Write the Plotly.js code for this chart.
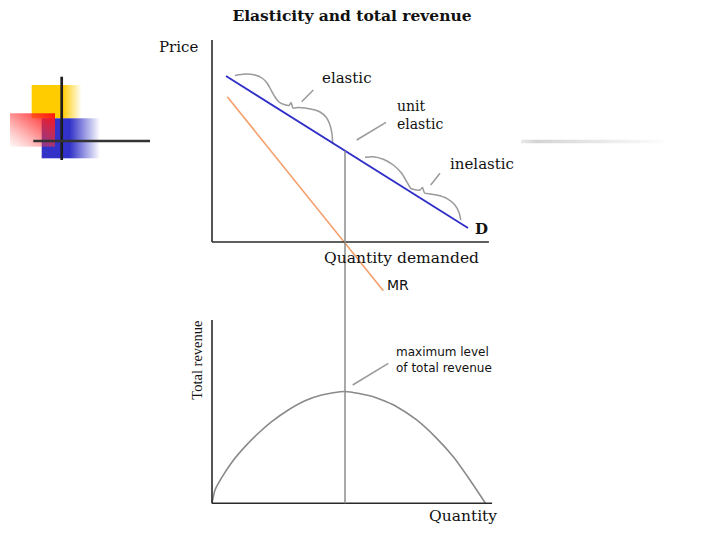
<!DOCTYPE html>
<html>
<head>
<meta charset="utf-8">
<script src="https://cdn.plot.ly/plotly-3.0.1.min.js"></script>
<style>html,body{margin:0;padding:0;background:#fff;}#chart{width:720px;height:540px;}</style>
</head>
<body>
<div id="chart"></div>
<script>
// ---- data (quantity Q, price P, total revenue TR) ----
const demandQ = [0.526, 9.624];
const demandP = [8.218, 0.693];
const mrQ = [0.575, 6.440];
const mrP = [7.193, -2.411];
const unitQ = 5.0;   // quantity where MR = 0 (unit elastic point)

const trQ  = [0, 0.113, 0.365, 0.741, 1.241, 1.741, 2.244, 2.868, 3.496, 4.124, 5.0, 6.064, 6.944, 7.695, 8.447, 9.071, 9.699, 10.28];
const trTR = [0, 1.18, 2.28, 3.63, 5.03, 6.22, 7.25, 8.29, 9.11, 9.62, 9.93, 9.47, 8.58, 7.40, 5.77, 4.14, 2.07, 0];

// curly braces beside the demand curve
const braceElasticQ = [0.865,1.241,1.617,1.880,2.068,2.218,2.368,2.519,2.707,2.895,2.970,3.045,3.233,3.496,3.872,4.060,4.286,4.436,4.511,4.538];
const braceElasticP = [8.243,8.317,8.267,8.119,7.871,7.525,7.178,6.931,6.807,6.757,6.906,6.634,6.658,6.634,6.535,6.436,6.188,5.792,5.347,4.851];
const braceInelasticQ = [5.752,6.064,6.440,6.816,7.132,7.320,7.470,7.594,7.820,7.914,7.989,8.195,8.447,8.823,9.135,9.297,9.350];
const braceInelasticP = [4.193,4.223,4.094,3.812,3.401,2.985,2.658,2.599,2.574,2.698,2.426,2.376,2.327,2.163,1.832,1.421,1.089];

// axis extents
const topAxisQmax = 10.41, topAxisPmax = 10.0;
const botAxisQmax = 10.53, botAxisTRmax = 16.28;

// labels
const titleText = 'Elasticity and total revenue';
const labels = {
  price: 'Price', elastic: 'elastic', unit: 'unit<br>elastic', inelastic: 'inelastic',
  d: 'D', qd: 'Quantity demanded', mr: 'MR', tr: 'Total revenue',
  max: 'maximum level<br>of total revenue', q: 'Quantity'
};

// ---- scales ----
const xRange = [-7.9699, 19.0977];
const yRange = [-14.7525, 11.9802];
const y2Range = [-3.2593, 44.698];

function interp(xs, ys, x) {
  const t = (x - xs[0]) / (xs[1] - xs[0]);
  return ys[0] + t * (ys[1] - ys[0]);
}
const pUnit = interp(demandQ, demandP, unitQ);
const paperY = (v) => (v - yRange[0]) / (yRange[1] - yRange[0]);
const paperY2 = (v) => (v - y2Range[0]) / (y2Range[1] - y2Range[0]);

const gray = '#9a9a9a';
const traces = [
  {x: braceElasticQ, y: braceElasticP, mode: 'lines', line: {color: gray, width: 1.5, shape: 'spline', smoothing: 0.6}},
  {x: braceInelasticQ, y: braceInelasticP, mode: 'lines', line: {color: gray, width: 1.5, shape: 'spline', smoothing: 0.6}},
  {x: mrQ, y: mrP, mode: 'lines', line: {color: '#f3a06c', width: 1.6}},
  {x: demandQ, y: demandP, mode: 'lines', line: {color: '#2f2fc8', width: 1.8}},
  {x: trQ, y: trTR, yaxis: 'y2', mode: 'lines', line: {color: '#8a8a8a', width: 1.6, shape: 'spline', smoothing: 0.6}}
];

const axisCol = '#2a2a2a';
const shapes = [
  // top axes
  {type: 'line', xref: 'x', yref: 'y', x0: 0, y0: 0, x1: 0, y1: topAxisPmax, line: {color: axisCol, width: 1.6}},
  {type: 'line', xref: 'x', yref: 'y', x0: 0, y0: 0, x1: topAxisQmax, y1: 0, line: {color: axisCol, width: 1.6}},
  // bottom axes
  {type: 'line', xref: 'x', yref: 'y2', x0: 0, y0: 0, x1: 0, y1: botAxisTRmax, line: {color: axisCol, width: 1.6}},
  {type: 'line', xref: 'x', yref: 'y2', x0: 0, y0: 0, x1: botAxisQmax, y1: 0, line: {color: axisCol, width: 1.6}},
  // vertical guide at unit elasticity
  {type: 'line', xref: 'x', yref: 'paper', x0: unitQ, x1: unitQ, y0: paperY2(0), y1: paperY(pUnit), line: {color: '#8c8c8c', width: 1.5}},
  // leader lines
  {type: 'line', xref: 'x', yref: 'y', x0: 3.808, y0: 7.525, x1: 3.372, y1: 6.946, line: {color: gray, width: 1.5}},
  {type: 'line', xref: 'x', yref: 'y', x0: 6.541, y0: 5.926, x1: 5.440, y1: 5.050, line: {color: gray, width: 1.5}},
  {type: 'line', xref: 'x', yref: 'y', x0: 8.571, y0: 3.401, x1: 8.222, y1: 2.822, line: {color: gray, width: 1.5}},
  {type: 'line', xref: 'x', yref: 'y2', x0: 6.628, y0: 12.433, x1: 5.289, y1: 10.506, line: {color: gray, width: 1.5}}
];

const serif = 'DejaVu Serif, serif';
const sans = 'DejaVu Sans, sans-serif';
function ann(text, x, y, yref, font, opts) {
  return Object.assign({text: text, x: x, y: y, xref: 'x', yref: yref, showarrow: false,
    xanchor: 'left', yanchor: 'middle', align: 'left', font: Object.assign({color: '#111'}, font)}, opts || {});
}
const annotations = [
  ann(labels.price, -2.07, 9.668, 'y', {family: serif, size: 15}),
  ann(labels.elastic, 4.060, 8.134, 'y', {family: serif, size: 15}),
  ann(labels.unit, 6.880, 6.287, 'y', {family: serif, size: 14}),
  ann(labels.inelastic, 8.872, 3.861, 'y', {family: serif, size: 15}),
  ann('<b>' + labels.d + '</b>', 9.812, 0.644, 'y', {family: serif, size: 15}),
  ann(labels.qd, 4.15, -0.807, 'y', {family: serif, size: 15.5}),
  ann(labels.mr, 6.504, -2.129, 'y', {family: sans, size: 14}),
  ann(labels.max, 6.842, 12.69, 'y2', {family: sans, size: 12}),
  ann(labels.q, 8.08, -1.128, 'y2', {family: serif, size: 15.5}),
  ann(labels.tr, -0.575, 12.73, 'y2', {family: 'Liberation Serif, serif', size: 14.5}, {xanchor: 'center', textangle: -90})
];

// slide decoration (logo squares with fades, and faint rule on the right)
const logoSvg = '<svg xmlns="http://www.w3.org/2000/svg" width="160" height="95" viewBox="0 70 160 95" preserveAspectRatio="none">' +
  '<defs>' +
  '<linearGradient id="gy" x1="0" x2="1" y1="0" y2="0"><stop offset="0" stop-color="#FFCC00"/><stop offset="0.62" stop-color="#FFCC00"/><stop offset="1" stop-color="#FFCC00" stop-opacity="0"/></linearGradient>' +
  '<linearGradient id="gb" x1="0" x2="1" y1="0" y2="0"><stop offset="0" stop-color="#3232C8"/><stop offset="0.48" stop-color="#3232C8"/><stop offset="1" stop-color="#3232C8" stop-opacity="0"/></linearGradient>' +
  '<linearGradient id="gr" x1="1" y1="0" x2="0" y2="1"><stop offset="0" stop-color="#FF1010"/><stop offset="0.45" stop-color="#FF3030" stop-opacity="0.6"/><stop offset="1" stop-color="#FF6060" stop-opacity="0.05"/></linearGradient>' +
  '</defs>' +
  '<rect x="31.7" y="85" width="50" height="33.3" fill="url(#gy)"/>' +
  '<rect x="41.7" y="118.3" width="58.3" height="40" fill="url(#gb)"/>' +
  '<rect x="10" y="113.3" width="45" height="33.4" fill="url(#gr)"/>' +
  '<line x1="61.7" y1="76.7" x2="61.7" y2="160" stroke="#1e1e1e" stroke-width="2.7"/>' +
  '<line x1="33.3" y1="141" x2="150" y2="141" stroke="#333" stroke-width="2.5"/>' +
  '</svg>';
const ruleSvg = '<svg xmlns="http://www.w3.org/2000/svg" width="150" height="4" viewBox="0 0 150 4" preserveAspectRatio="none">' +
  '<defs><linearGradient id="gg" x1="0" x2="1" y1="0" y2="0"><stop offset="0" stop-color="#d4d4d4" stop-opacity="0.5"/><stop offset="0.1" stop-color="#d4d4d4"/><stop offset="1" stop-color="#d4d4d4" stop-opacity="0"/></linearGradient></defs>' +
  '<rect x="0" y="0" width="150" height="4" fill="url(#gg)"/></svg>';
const toUri = (s) => 'data:image/svg+xml;charset=utf-8,' + encodeURIComponent(s);

const layout = {
  width: 720, height: 540,
  margin: {l: 0, r: 0, t: 0, b: 0},
  paper_bgcolor: '#ffffff', plot_bgcolor: 'rgba(0,0,0,0)',
  showlegend: false, hovermode: false,
  title: {text: '<b>' + titleText + '</b>', x: 352/720, y: 1 - 15.7/540, xanchor: 'center', yanchor: 'middle',
          font: {family: serif, size: 15.5, color: '#111'}},
  xaxis: {range: xRange, visible: false, domain: [0, 1], fixedrange: true},
  yaxis: {range: yRange, visible: false, domain: [0, 1], fixedrange: true},
  yaxis2: {range: y2Range, visible: false, overlaying: 'y', fixedrange: true},
  shapes: shapes,
  annotations: annotations,
  images: [
    {source: toUri(logoSvg), xref: 'paper', yref: 'paper', x: 0, y: 1 - 70/540, sizex: 160/720, sizey: 95/540,
     xanchor: 'left', yanchor: 'top', sizing: 'stretch', layer: 'above'},
    {source: toUri(ruleSvg), xref: 'paper', yref: 'paper', x: 521/720, y: 1 - 139.5/540, sizex: 150/720, sizey: 4/540,
     xanchor: 'left', yanchor: 'top', sizing: 'stretch', layer: 'above'}
  ]
};

Plotly.newPlot('chart', traces, layout, {staticPlot: true, displayModeBar: false});
</script>
</body>
</html>
